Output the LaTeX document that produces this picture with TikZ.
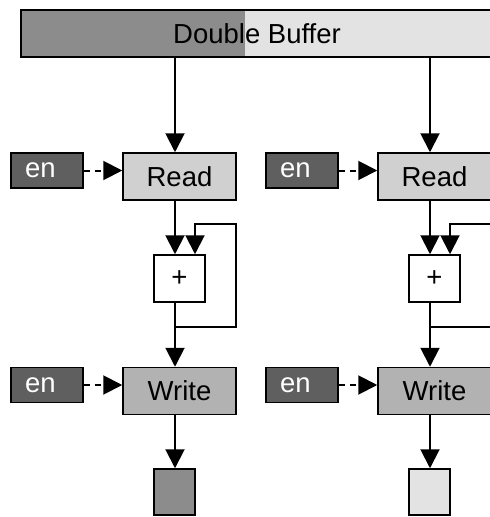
\documentclass[tikz,border=0pt]{standalone}
\usepackage{fontspec}
\setmainfont{Liberation Sans}
\usepackage{tikz}
\usetikzlibrary{arrows.meta, positioning}
\tikzset{>={Triangle[length=19pt,width=19pt]}}

\definecolor{bufdark}{RGB}{140,140,140}
\definecolor{buflight}{RGB}{227,227,227}
\definecolor{endark}{RGB}{95,95,95}
\definecolor{readgray}{RGB}{208,208,208}
\definecolor{writegray}{RGB}{178,178,178}

\tikzset{
	box/.style={draw, line width=1.5pt, inner sep=0pt},
	enbox/.style={box, fill=endark, text=white, text width=44pt, align=left, inner xsep=14pt, minimum height=35pt},
	rwbox/.style={box, minimum width=113pt, minimum height=47pt},
	addbox/.style={box, fill=white, minimum width=51pt, minimum height=47pt},
	outbox/.style={box, minimum width=41pt, minimum height=46pt},
	wire/.style={line width=2pt},
	enwire/.style={line width=2pt, dashed, dash pattern=on 6pt off 5pt}
}

\begin{document}
\begin{tikzpicture}[x=1pt, y=-1pt, font=\fontsize{27.5pt}{30pt}\selectfont]
	\useasboundingbox (0,0) rectangle (490,517);
	\clip (0,0) rectangle (490,517);
	\node[box, fill=buflight, minimum width=472pt, minimum height=47pt,
		path picture={\fill[bufdark] (path picture bounding box.south west) rectangle ([xshift=224pt]path picture bounding box.north west);}]
		(buf) at (257,33.5) {Double Buffer};
	%left half
	\coordinate (colA) at (175,0);
	\coordinate (inA) at (195,0);
	\node[enbox] (enA1) at (47,170.5) {en};
	\node[rwbox, fill=readgray] (rdA) at (179.5,176.5) {Read};
	\node[addbox] (addA) at (179.5,278.5) {+};
	\node[enbox] (enA2) at (47,385) {en};
	\node[rwbox, fill=writegray] (wrA) at (179.5,391) {Write};
	\node[outbox, fill=bufdark] (outA) at (174.5,492) {};
	\coordinate (tapA) at (175,327);
	\coordinate (loopA) at (236,224);
	\draw[wire, ->] (buf.south -| colA) -- (rdA.north -| colA);
	\draw[enwire, ->] (enA1.east) -- (enA1.east -| rdA.west);
	\draw[wire, ->] (rdA.south -| colA) -- (addA.north -| colA);
	\draw[wire, ->] (tapA) -| (loopA) -| (addA.north -| inA);
	\draw[wire, ->] (addA.south -| colA) -- (wrA.north -| colA);
	\draw[enwire, ->] (enA2.east) -- (enA2.east -| wrA.west);
	\draw[wire, ->] (wrA.south -| colA) -- (outA.north -| colA);
	%right half
	\coordinate (colB) at (430,0);
	\coordinate (inB) at (450,0);
	\node[enbox] (enB1) at (302,170.5) {en};
	\node[rwbox, fill=readgray] (rdB) at (434.5,176.5) {Read};
	\node[addbox] (addB) at (434.5,278.5) {+};
	\node[enbox] (enB2) at (302,385) {en};
	\node[rwbox, fill=writegray] (wrB) at (434.5,391) {Write};
	\node[outbox, fill=buflight] (outB) at (429.5,492) {};
	\coordinate (tapB) at (430,327);
	\coordinate (loopB) at (491,224);
	\draw[wire, ->] (buf.south -| colB) -- (rdB.north -| colB);
	\draw[enwire, ->] (enB1.east) -- (enB1.east -| rdB.west);
	\draw[wire, ->] (rdB.south -| colB) -- (addB.north -| colB);
	\draw[wire, ->] (tapB) -| (loopB) -| (addB.north -| inB);
	\draw[wire, ->] (addB.south -| colB) -- (wrB.north -| colB);
	\draw[enwire, ->] (enB2.east) -- (enB2.east -| wrB.west);
	\draw[wire, ->] (wrB.south -| colB) -- (outB.north -| colB);
\end{tikzpicture}
\end{document}
